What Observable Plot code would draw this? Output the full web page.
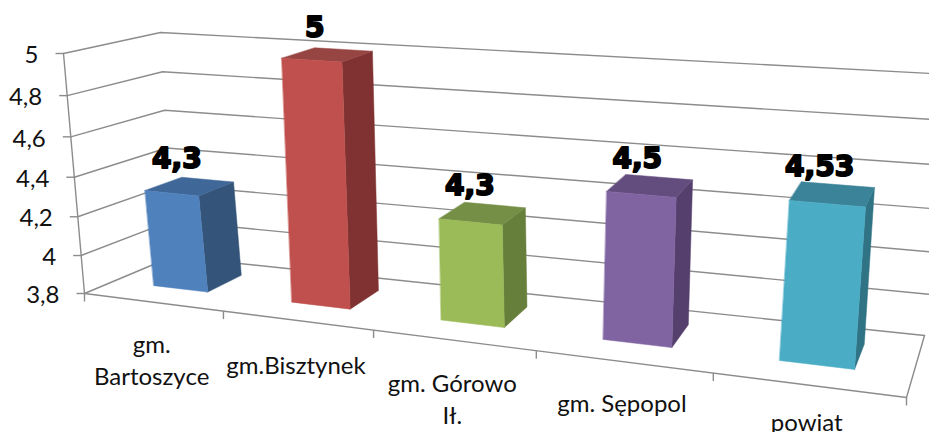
<!DOCTYPE html>
<html>
<head>
<meta charset="utf-8">
<script src="https://cdn.jsdelivr.net/npm/d3@7"></script>
<script src="https://cdn.jsdelivr.net/npm/@observablehq/plot@0.6"></script>
<style>html,body{margin:0;padding:0;background:#fff}svg{display:block}</style>
</head>
<body>
<div id="chart"></div>
<script>
// Data
const categories = ["gm.\nBartoszyce", "gm.Bisztynek", "gm. Górowo\nIł.", "gm. Sępopol", "powiat"];
const values = [4.3, 5, 4.3, 4.5, 4.53];
const valueLabels = ["4,3", "5", "4,3", "4,5", "4,53"];
const yTicks = [3.8, 4, 4.2, 4.4, 4.6, 4.8, 5];
const yTickLabels = ["3,8", "4", "4,2", "4,4", "4,6", "4,8", "5"];
const frontColors = ["#4f81bd", "#c0504d", "#9bbb59", "#8064a2", "#4bacc6"];
const topColors = ["#3f6797", "#964543", "#768f46", "#634c7e", "#3a8399"];
const sideColors = ["#345479", "#7f3231", "#667f3b", "#553f6c", "#2f7385"];

// The chart's 3D frame: where the corners of the box land on the picture
const box = {
  frontLeft:  {bottom: [84, 293],  top: [63, 53]},
  frontRight: {bottom: [906, 397], top: [936, 112]},
  backLeft:   {bottom: [172, 256], top: [160, 32]},
  backRight:  {bottom: [924, 335], top: [950, 74]}
};
const nCat = categories.length;
const kX = 1.229, kV = 1.064;
const persp = (f, k) => f / (f + k * (1 - f));
const lerp = (a, b, f) => [a[0] + (b[0] - a[0]) * f, a[1] + (b[1] - a[1]) * f];
function project(cat, depth, value) {
  const s = persp(cat / nCat, kX);
  const v = persp((value - yTicks[0]) / (yTicks[yTicks.length - 1] - yTicks[0]), kV);
  const fl = lerp(box.frontLeft.bottom, box.frontLeft.top, v);
  const fr = lerp(box.frontRight.bottom, box.frontRight.top, v);
  const bl = lerp(box.backLeft.bottom, box.backLeft.top, v);
  const br = lerp(box.backRight.bottom, box.backRight.top, v);
  const [x, y] = lerp(lerp(fl, fr, s), lerp(bl, br, s), depth);
  return {x, y};
}

// Bar solids
const barStart = 0.3, barEnd = 0.7, depthFront = 0.34, depthBack = 0.76;
const leanLeft = 2.5, leanRight = 4; // the bars' tops lean a little further than the frame
const base = yTicks[0];
const faces = [];
values.forEach((val, i) => {
  const a = i + barStart, b = i + barEnd;
  const add = (id, color, pts) => pts.forEach(p => {
    const q = project(...p);
    if (p[2] !== base) q.x -= p[0] === a ? leanLeft : leanRight;
    faces.push({id: `${i}-${id}`, color, ...q});
  });
  add("side", sideColors[i], [[b, depthFront, base], [b, depthBack, base], [b, depthBack, val], [b, depthFront, val]]);
  add("top", topColors[i], [[a, depthFront, val], [b, depthFront, val], [b, depthBack, val], [a, depthBack, val]]);
  add("front", frontColors[i], [[a, depthFront, base], [b, depthFront, base], [b, depthFront, val], [a, depthFront, val]]);
});

// Frame lines
const grid = yTicks.flatMap(t => [[0, 0, t], [0, 1, t], [nCat, 1, t]].map(p => ({id: t, ...project(...p)})));
const floor = [[0, 0, base], [nCat, 0, base], [nCat, 1, base]].map(p => ({...project(...p)}));
const axisLine = [base, yTicks[yTicks.length - 1]].map(t => project(0, 0, t));
const catEdges = d3.range(nCat + 1);
const labelDrop = [28, 31, 29, 28, 23.5];

const font = "Lato, Carlito, 'Open Sans', sans-serif";
const gridColor = "#8c8c8c";

const plot = Plot.plot({
  width: 929, height: 432,
  margin: 0,
  x: {type: "linear", domain: [0, 929], range: [0, 929], axis: null},
  y: {type: "linear", domain: [0, 432], range: [0, 432], axis: null},
  color: {type: "identity"},
  marks: [
    Plot.line(grid, {x: "x", y: "y", z: "id", stroke: gridColor, strokeWidth: 1.4}),
    Plot.line(floor, {x: "x", y: "y", stroke: gridColor, strokeWidth: 1.4}),
    Plot.line(axisLine, {x: "x", y: "y", stroke: gridColor, strokeWidth: 1.4}),
    Plot.link(yTicks, {
      x1: t => project(0, 0, t).x - 8, y1: t => project(0, 0, t).y,
      x2: t => project(0, 0, t).x, y2: t => project(0, 0, t).y,
      stroke: gridColor, strokeWidth: 1.4
    }),
    Plot.link(catEdges, {
      x1: c => project(c, 0, base).x, y1: c => project(c, 0, base).y,
      x2: c => project(c, 0, base).x, y2: c => project(c, 0, base).y + 8,
      stroke: gridColor, strokeWidth: 1.4
    }),
    Plot.line(faces, {x: "x", y: "y", z: "id", fill: "color", stroke: "color", strokeWidth: 0.5, curve: "linear-closed"}),
    Plot.text(yTicks, {
      x: t => project(0, 0, t).x - 25, y: t => project(0, 0, t).y + 2,
      text: (t, i) => yTickLabels[i], textAnchor: "end", fontFamily: font, fontSize: 24, fill: "#111"
    }),
    Plot.text(categories, {
      x: (c, i) => project(i + 0.5, 0, base).x - 1,
      y: (c, i) => project(i + 0.5, 0, base).y + labelDrop[i],
      text: d => d, lineAnchor: "top", lineHeight: 1.33, fontFamily: font, fontSize: 24, fill: "#111"
    }),
    Plot.text(values, {
      x: (v, i) => project(i + 0.5, 0.55, v).x - 16,
      y: (v, i) => project(i + 0.5, 0.55, v).y - 27,
      text: (v, i) => valueLabels[i], fontFamily: "'DejaVu Sans', sans-serif", fontSize: 28, fontWeight: 700,
      fill: "#000", stroke: "#000", strokeWidth: 2
    })
  ]
});
document.getElementById("chart").appendChild(plot);
</script>
</body>
</html>
